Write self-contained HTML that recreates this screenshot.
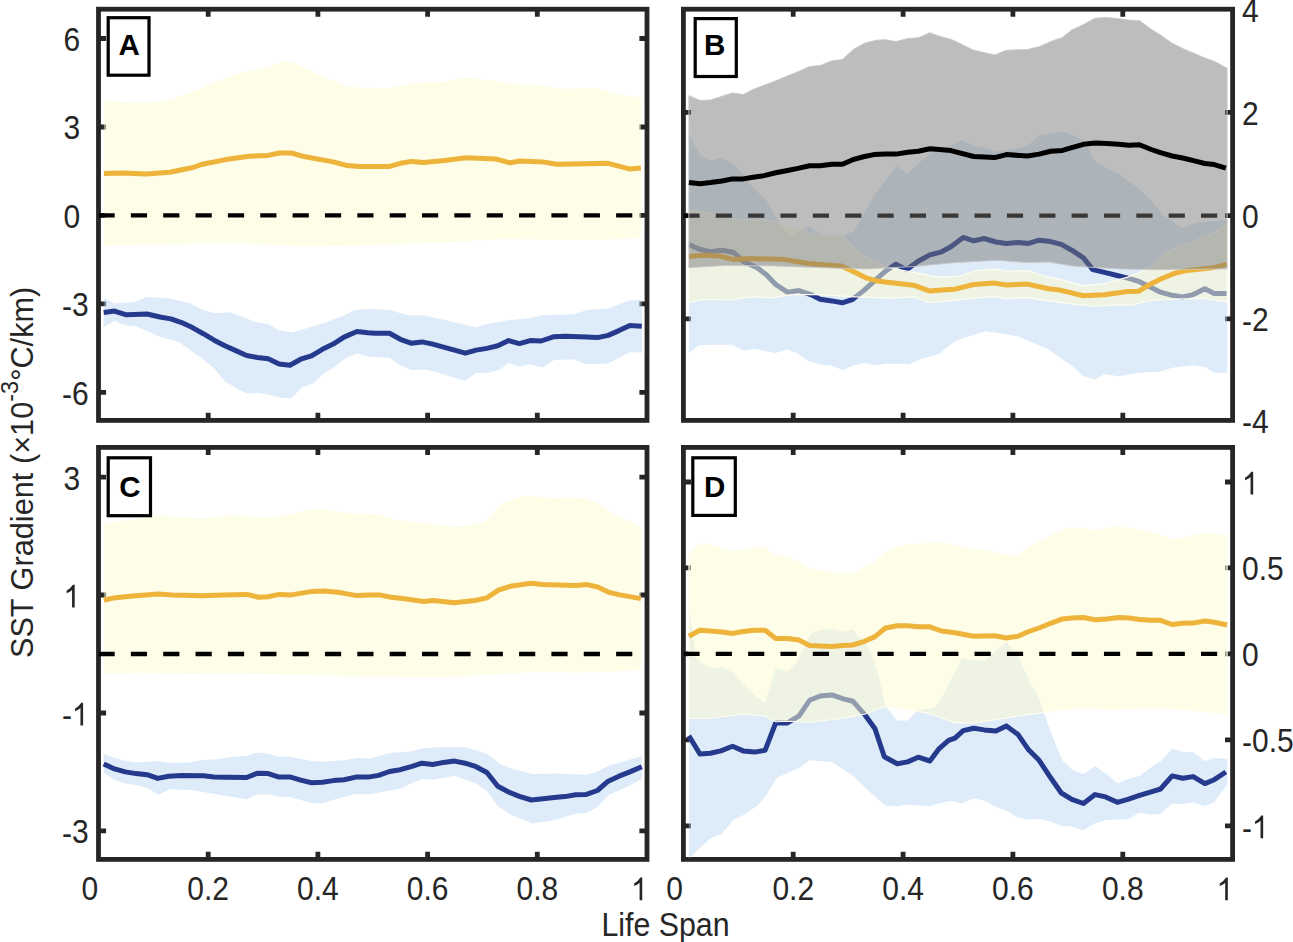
<!DOCTYPE html><html><head><meta charset="utf-8"><style>html,body{margin:0;padding:0;background:#fff;width:1293px;height:942px;overflow:hidden}svg{display:block}text{font-family:"Liberation Sans", sans-serif}</style></head><body>
<svg width="1293" height="942" viewBox="0 0 1293 942">
<defs>
<clipPath id="cA"><rect x="98.5" y="9.2" width="548.5" height="411.8"/></clipPath>
<clipPath id="cB"><rect x="683.4" y="9.2" width="549.2" height="411.8"/></clipPath>
<clipPath id="cC"><rect x="98.5" y="447.4" width="548.5" height="412.6"/></clipPath>
<clipPath id="cD"><rect x="683.4" y="447.4" width="549.2" height="412.6"/></clipPath>
</defs>
<path d="M98.5 38.5H106.1M647.0 38.5H639.4M98.5 127.0H106.1M647.0 127.0H639.4M98.5 215.4H106.1M647.0 215.4H639.4M98.5 303.8H106.1M647.0 303.8H639.4M98.5 392.3H106.1M647.0 392.3H639.4M208.2 9.2V16.8M208.2 420.4V412.8M317.9 9.2V16.8M317.9 420.4V412.8M427.6 9.2V16.8M427.6 420.4V412.8M537.3 9.2V16.8M537.3 420.4V412.8" stroke="#262626" stroke-width="4.8" fill="none"/>
<rect x="98.5" y="9.2" width="548.5" height="411.2" fill="none" stroke="#262626" stroke-width="4.8"/>
<g clip-path="url(#cA)">
<polygon points="103.9,100.3 118.4,101.9 144.0,103.0 169.7,100.3 193.0,91.4 216.4,82.0 239.8,72.7 267.8,67.6 281.8,61.5 291.2,61.5 319.2,75.0 347.2,86.7 370.0,87.9 388.7,88.6 412.0,83.2 444.7,82.0 463.4,77.4 500.8,81.6 510.1,83.9 533.5,84.4 563.8,89.0 594.2,87.9 622.2,94.9 640.9,97.2 640.9,238.5 580.2,239.9 500.8,239.0 440.0,242.7 370.0,245.0 305.2,246.7 293.5,245.5 235.0,243.2 165.0,244.3 103.9,245.5" fill="#fdfbd0" fill-opacity="0.5"/>
<polygon points="103.7,297.7 114.5,303.6 134.0,302.0 147.0,297.1 168.6,298.2 190.3,303.6 203.3,310.1 214.1,313.3 229.3,312.2 242.2,316.6 255.2,322.0 268.2,324.1 279.1,330.2 292.1,332.4 302.9,329.5 313.7,325.9 324.5,323.1 344.0,315.5 354.9,310.1 370.0,309.0 389.5,310.1 409.0,315.5 424.1,315.5 445.8,320.2 476.1,327.4 486.9,324.1 508.6,320.2 530.2,318.1 543.2,315.0 573.6,314.4 586.5,310.1 608.2,308.5 629.9,300.3 641.8,299.9 641.8,352.7 629.9,351.9 608.2,363.5 586.5,364.2 573.6,359.2 554.1,359.9 542.2,367.4 530.2,364.2 519.4,366.4 508.6,363.1 499.9,369.6 486.9,373.1 476.1,373.1 465.3,380.9 435.0,371.8 424.1,369.6 411.1,370.0 400.3,365.3 389.5,357.7 375.0,357.0 367.9,356.6 357.0,353.4 346.2,357.7 335.4,366.4 324.5,372.9 313.7,383.0 302.9,386.9 291.0,398.2 281.2,397.8 268.2,394.5 257.4,393.0 246.6,393.4 224.9,381.5 214.1,368.5 201.1,357.7 179.5,342.5 157.8,336.0 136.1,326.3 125.3,325.2 114.5,320.9 103.7,326.7" fill="#b6d3f0" fill-opacity="0.45"/>
<polyline points="103.9,173.6 123.0,173.1 146.4,174.0 169.7,172.2 193.0,167.5 202.4,164.2 225.8,159.6 249.1,156.3 267.8,155.4 279.5,153.0 291.2,153.0 305.2,156.8 333.2,161.9 347.2,165.6 358.9,166.6 370.0,166.6 388.7,166.6 400.4,163.3 412.0,161.4 423.7,162.4 444.7,160.5 465.7,157.7 496.1,159.1 510.1,162.8 519.5,161.0 542.8,161.9 556.8,164.2 584.9,163.8 608.2,163.3 629.2,168.9 640.9,168.0" fill="none" stroke="#edb33a" stroke-width="5" stroke-linejoin="round"/>
<polyline points="103.7,312.4 114.5,311.1 126.4,314.8 147.0,314.0 160.0,317.0 170.8,318.9 181.6,322.6 192.4,327.6 203.3,333.7 214.1,340.2 224.9,345.8 235.8,350.6 246.6,355.5 257.4,357.5 268.2,358.8 279.1,364.0 289.9,365.3 300.7,359.2 311.5,355.8 322.4,349.3 333.2,344.1 344.0,337.1 357.0,331.5 367.9,332.8 375.0,333.2 389.5,333.2 400.3,339.3 411.1,343.2 422.0,341.9 432.8,344.1 443.6,347.1 454.5,350.1 465.3,353.2 476.1,350.1 486.9,348.4 497.8,345.8 508.6,340.6 519.4,343.6 530.2,340.6 541.1,341.0 554.1,336.7 564.9,336.3 586.5,337.1 597.4,337.6 608.2,335.4 619.0,330.6 629.9,325.4 641.8,326.3" fill="none" stroke="#253a8c" stroke-width="5" stroke-linejoin="round"/>
<line x1="98.5" y1="215.4" x2="647.0" y2="215.4" stroke="#000" stroke-width="4.4" stroke-dasharray="16.2 16.15"/>
</g>
<text transform="translate(80.20,51.02) scale(1.000,1.100)" font-size="30" fill="#262626" text-anchor="end">6</text>
<text transform="translate(80.20,139.46) scale(1.000,1.100)" font-size="30" fill="#262626" text-anchor="end">3</text>
<text transform="translate(80.20,227.90) scale(1.000,1.100)" font-size="30" fill="#262626" text-anchor="end">0</text>
<text transform="translate(88.60,316.34) scale(1.000,1.100)" font-size="30" fill="#262626" text-anchor="end"><tspan dy="1.40">-</tspan><tspan dy="-1.40">3</tspan></text>
<text transform="translate(88.60,404.78) scale(1.000,1.100)" font-size="30" fill="#262626" text-anchor="end"><tspan dy="1.40">-</tspan><tspan dy="-1.40">6</tspan></text>
<rect x="108.2" y="17.7" width="40.8" height="57.5" fill="#fff" stroke="#000" stroke-width="3.2"/>
<text transform="translate(129.20,55.00) scale(1.000,1.020)" font-size="29.5" fill="#000" text-anchor="middle" font-weight="bold">A</text>
<path d="M683.4 112.4H691.0M1232.6 112.4H1225.0M683.4 215.6H691.0M1232.6 215.6H1225.0M683.4 318.8H691.0M1232.6 318.8H1225.0M793.2 9.2V16.8M793.2 420.4V412.8M903.1 9.2V16.8M903.1 420.4V412.8M1012.9 9.2V16.8M1012.9 420.4V412.8M1122.8 9.2V16.8M1122.8 420.4V412.8" stroke="#262626" stroke-width="4.8" fill="none"/>
<rect x="683.4" y="9.2" width="549.2" height="411.2" fill="none" stroke="#262626" stroke-width="4.8"/>
<g clip-path="url(#cB)">
<polygon points="688.9,134.3 699.9,155.3 710.4,161.1 720.9,157.6 732.5,163.5 743.1,174.0 750.0,184.5 766.4,200.8 779.0,221.9 789.3,237.2 808.0,226.2 818.1,233.0 831.7,235.5 843.6,235.5 853.8,231.3 875.9,193.0 896.3,165.9 907.7,174.0 918.2,163.5 929.9,154.1 948.6,147.1 962.0,140.1 973.7,146.0 985.4,148.3 997.0,151.8 1011.0,149.5 1027.4,146.0 1039.1,135.5 1050.7,133.6 1061.3,131.2 1071.8,135.0 1083.4,140.1 1095.1,161.1 1106.8,168.6 1118.5,174.0 1139.5,189.2 1151.2,200.8 1162.8,214.9 1182.2,228.2 1196.2,222.5 1212.0,221.5 1227.1,220.0 1227.1,372.8 1214.2,372.8 1204.9,367.0 1193.2,365.3 1172.2,367.7 1160.5,371.6 1139.5,372.8 1118.5,376.3 1104.5,374.0 1095.1,379.4 1083.4,376.3 1071.8,365.8 1048.4,349.5 1018.1,336.6 1001.7,333.6 985.4,331.2 964.3,337.8 955.0,341.3 939.2,353.7 920.5,359.3 908.9,364.6 897.2,363.5 885.5,363.9 876.2,365.3 864.5,363.0 852.8,365.8 842.3,370.0 831.8,365.8 820.1,364.6 808.4,361.1 796.8,353.0 787.4,349.5 775.7,353.0 754.7,349.0 743.1,350.6 731.4,344.8 710.4,344.8 698.7,345.3 688.9,353.0" fill="#b6d3f0" fill-opacity="0.45"/>
<polyline points="688.9,244.4 698.7,249.0 710.4,251.8 722.0,250.2 733.7,252.5 743.1,261.2 757.1,267.7 766.4,274.7 775.7,284.5 787.4,292.2 799.1,290.6 810.8,294.6 820.1,299.3 831.8,300.9 842.3,302.8 852.8,299.3 864.5,289.9 876.2,279.4 885.5,271.2 896.0,264.2 906.5,269.6 918.2,261.2 929.9,254.9 941.6,251.8 950.9,246.7 963.2,237.4 973.7,240.9 984.2,238.5 995.9,242.0 1006.4,243.4 1018.1,242.5 1028.6,243.4 1039.1,240.2 1050.7,241.6 1061.3,244.4 1071.8,250.2 1083.4,257.9 1092.8,269.6 1104.5,272.4 1116.1,275.2 1127.8,278.2 1139.5,281.7 1151.2,287.6 1160.5,292.2 1172.2,295.3 1182.7,296.9 1193.2,294.6 1204.9,288.7 1214.2,293.4 1227.1,293.4" fill="none" stroke="#253a8c" stroke-width="5" stroke-linejoin="round"/>
<polygon points="688.9,210.5 703.4,211.7 731.4,218.7 740.0,219.4 765.5,220.2 780.8,223.6 797.7,228.7 811.3,233.8 841.9,236.3 858.9,252.5 875.9,262.7 889.5,267.8 913.5,272.4 936.9,277.1 960.0,276.3 973.7,271.2 994.7,268.9 1006.4,271.2 1027.4,270.5 1048.4,277.1 1060.1,279.4 1083.4,285.9 1104.5,283.6 1127.8,277.1 1139.5,272.4 1153.5,265.5 1165.2,253.7 1176.9,247.9 1193.2,240.9 1214.2,232.7 1227.1,223.4 1227.1,302.0 1206.4,298.8 1180.9,298.8 1150.4,300.8 1130.0,305.2 1118.5,304.6 1095.1,306.3 1071.8,303.9 1048.4,300.9 1027.4,297.6 1006.4,298.6 994.7,296.7 973.7,298.1 955.0,300.4 929.9,302.8 913.5,296.9 890.2,298.1 855.2,296.9 820.1,294.6 792.1,294.6 773.4,297.6 750.1,296.9 731.4,300.0 703.4,299.3 688.9,302.8" fill="#fdfbd0" fill-opacity="0.5" stroke="#fffdf0" stroke-width="1.1" stroke-linejoin="round"/>
<polyline points="688.9,256.5 703.4,255.3 719.7,256.0 733.7,259.6 750.1,258.4 785.1,259.6 808.4,263.5 841.1,265.9 852.8,271.2 866.8,278.2 878.5,281.3 913.5,285.2 929.9,291.1 941.6,289.9 955.0,289.2 973.7,284.5 994.7,283.1 1006.4,285.0 1027.4,284.1 1048.4,288.7 1060.1,290.1 1083.4,295.7 1104.5,294.8 1127.8,291.5 1138.9,291.2 1149.1,284.8 1161.8,278.5 1174.6,273.4 1184.7,270.8 1198.7,269.2 1211.5,267.9 1219.1,266.4 1227.1,264.1" fill="none" stroke="#edb33a" stroke-width="5" stroke-linejoin="round"/>
<line x1="683.4" y1="215.6" x2="1232.6" y2="215.6" stroke="#000" stroke-width="4.4" stroke-dasharray="16.2 16.15"/>
<polygon points="688.9,95.7 699.9,100.4 710.4,100.0 722.0,96.2 732.5,92.9 743.1,94.6 754.7,88.7 773.4,81.7 787.4,75.9 799.1,71.2 809.6,66.6 820.1,65.4 831.8,60.7 842.3,59.6 854.0,49.0 864.5,43.2 876.2,40.2 885.5,39.7 896.0,41.6 907.7,38.5 918.2,37.8 929.9,32.7 939.2,36.2 950.9,39.2 960.0,43.5 973.7,50.2 994.7,54.9 1006.4,50.2 1027.4,49.5 1039.1,46.7 1050.7,41.6 1062.4,37.4 1071.8,29.9 1083.4,24.5 1095.1,18.2 1106.8,17.5 1118.5,18.7 1129.0,20.1 1139.5,20.6 1151.2,29.2 1160.5,35.0 1172.2,43.2 1183.9,49.0 1204.9,57.9 1214.2,61.2 1227.1,68.2 1227.1,268.9 1153.5,269.6 1118.5,268.9 1090.5,267.3 1071.8,265.9 1048.4,261.9 1027.4,262.6 997.0,260.3 955.0,262.6 913.5,266.6 866.8,268.9 820.1,267.7 773.4,265.9 726.7,265.4 688.9,267.7" fill="#757575" fill-opacity="0.48" stroke="#c8c8c8" stroke-width="0.9" stroke-linejoin="round"/>
<polyline points="688.9,182.6 699.9,183.8 710.4,182.6 722.0,181.0 732.5,178.9 743.1,178.9 754.7,177.0 764.1,175.6 775.7,172.8 787.4,170.5 796.8,168.6 809.6,165.8 820.1,165.8 831.8,164.2 842.3,164.2 852.8,159.7 864.5,156.5 873.8,154.6 885.5,154.1 896.0,154.1 907.7,152.3 918.2,151.3 929.9,148.8 939.2,149.5 950.9,150.6 973.7,156.5 994.7,157.6 1006.4,154.6 1027.4,156.0 1039.1,154.1 1050.7,151.3 1062.4,150.4 1071.8,147.6 1083.4,144.3 1095.1,142.9 1106.8,143.6 1118.5,144.3 1129.0,145.3 1139.5,144.8 1151.2,149.5 1160.5,152.7 1172.2,156.0 1183.9,158.3 1195.5,161.1 1204.9,163.5 1214.2,164.6 1225.9,168.1" fill="none" stroke="#000" stroke-width="5" stroke-linejoin="round"/>
</g>
<text transform="translate(1242.00,21.70) scale(1.000,1.100)" font-size="30" fill="#262626">4</text>
<text transform="translate(1242.00,124.92) scale(1.000,1.100)" font-size="30" fill="#262626">2</text>
<text transform="translate(1242.00,228.10) scale(1.000,1.100)" font-size="30" fill="#262626">0</text>
<text transform="translate(1242.00,331.28) scale(1.000,1.100)" font-size="30" fill="#262626"><tspan dy="1.40">-</tspan><tspan dy="-1.40">2</tspan></text>
<text transform="translate(1242.00,432.90) scale(1.000,1.100)" font-size="30" fill="#262626"><tspan dy="1.40">-</tspan><tspan dy="-1.40">4</tspan></text>
<rect x="695.2" y="18.6" width="41.1" height="57.9" fill="#fff" stroke="#000" stroke-width="3.2"/>
<text transform="translate(714.60,55.00) scale(1.000,1.020)" font-size="29.5" fill="#000" text-anchor="middle" font-weight="bold">B</text>
<path d="M98.5 477.1H106.1M647.0 477.1H639.4M98.5 595.0H106.1M647.0 595.0H639.4M98.5 713.0H106.1M647.0 713.0H639.4M98.5 830.9H106.1M647.0 830.9H639.4M208.2 447.4V455.0M208.2 859.4V851.8M317.9 447.4V455.0M317.9 859.4V851.8M427.6 447.4V455.0M427.6 859.4V851.8M537.3 447.4V455.0M537.3 859.4V851.8" stroke="#262626" stroke-width="4.8" fill="none"/>
<rect x="98.5" y="447.4" width="548.5" height="412.0" fill="none" stroke="#262626" stroke-width="4.8"/>
<g clip-path="url(#cC)">
<polygon points="103.9,523.9 118.4,521.6 141.7,518.5 158.1,515.5 176.7,516.9 202.4,518.5 225.8,515.5 246.8,516.2 263.1,517.8 288.8,515.0 309.9,509.2 323.9,509.2 340.2,512.7 370.0,513.9 379.3,514.6 393.4,519.2 421.4,523.2 440.1,524.4 454.1,526.7 475.1,524.4 486.8,520.2 500.8,504.5 519.5,496.8 533.5,496.3 552.2,498.2 566.2,497.5 584.9,498.2 598.9,503.4 615.2,515.0 631.6,522.0 640.9,526.7 640.9,670.3 580.2,672.7 533.5,672.0 486.8,675.0 440.1,677.3 375.0,676.6 328.5,675.7 281.8,674.3 235.1,673.4 188.4,673.8 141.7,672.7 103.9,673.4" fill="#fdfbd0" fill-opacity="0.5"/>
<polygon points="103.7,754.1 114.5,758.0 125.3,761.1 136.1,762.4 157.8,761.1 168.6,762.8 190.3,762.4 201.1,760.2 214.1,759.5 233.6,756.7 246.6,755.9 257.4,752.4 268.2,753.7 279.1,756.7 289.9,756.7 311.5,761.1 322.4,761.7 344.0,760.2 357.0,758.0 370.0,758.5 389.5,753.1 411.1,751.5 424.1,748.1 443.6,747.2 465.3,747.2 486.9,753.7 499.9,763.9 510.8,768.2 532.4,774.1 554.1,773.6 586.5,774.7 597.4,771.5 608.2,766.0 629.9,759.5 641.8,755.9 641.8,779.0 629.9,785.5 608.2,795.3 597.4,807.2 586.5,813.0 575.7,813.7 554.1,820.2 532.4,823.4 510.8,814.8 497.8,806.1 486.9,790.9 476.1,783.4 454.5,775.8 432.8,779.7 422.0,779.0 411.1,783.4 400.3,788.8 389.5,790.5 370.0,794.2 354.9,794.2 335.4,799.2 322.4,803.5 311.5,802.9 289.9,797.0 281.2,797.0 268.2,794.2 257.4,794.4 246.6,799.2 224.9,795.7 203.3,792.0 190.3,789.9 169.7,789.2 158.9,794.8 147.0,787.7 136.1,784.9 125.3,783.4 114.5,780.1 103.7,772.5" fill="#b6d3f0" fill-opacity="0.45"/>
<polyline points="103.9,600.3 113.7,597.9 130.0,596.3 158.1,594.0 172.1,594.9 202.4,595.8 223.4,594.9 246.8,594.4 258.5,597.2 267.8,596.8 279.5,594.4 291.2,594.9 312.2,591.4 323.9,590.9 340.2,592.6 356.6,595.6 370.0,594.9 379.3,594.9 391.0,597.2 402.7,598.6 423.7,601.4 433.1,600.5 454.1,602.8 475.1,600.5 486.8,597.9 498.4,590.2 510.1,586.3 531.1,583.2 542.8,584.6 575.5,585.6 587.2,584.6 597.7,587.0 608.2,592.1 619.9,594.9 640.9,598.6" fill="none" stroke="#edb33a" stroke-width="5" stroke-linejoin="round"/>
<polyline points="103.7,763.9 114.5,768.9 125.3,771.9 136.1,773.6 147.0,774.7 157.8,778.4 168.6,776.2 181.6,775.4 203.3,775.8 214.1,777.1 224.9,777.3 246.6,777.5 257.4,773.2 268.2,773.6 279.1,777.1 289.9,776.9 300.7,780.1 311.5,782.7 322.4,782.3 333.2,780.6 344.0,779.7 357.0,776.9 367.9,777.1 378.7,775.4 389.5,771.5 400.3,769.7 411.1,766.7 422.0,763.2 432.8,764.5 443.6,762.4 454.5,761.1 465.3,763.2 476.1,766.7 486.9,772.5 497.8,786.2 508.6,792.0 519.4,796.4 531.3,800.0 543.2,798.7 554.1,797.4 564.9,796.6 575.7,794.8 586.5,794.4 597.4,790.5 608.2,781.2 619.0,776.2 629.9,771.9 641.8,766.7" fill="none" stroke="#253a8c" stroke-width="5" stroke-linejoin="round"/>
<line x1="98.5" y1="654.0" x2="647.0" y2="654.0" stroke="#000" stroke-width="4.4" stroke-dasharray="16.2 16.15"/>
</g>
<text transform="translate(80.20,489.59) scale(1.000,1.100)" font-size="30" fill="#262626" text-anchor="end">3</text>
<path transform="translate(63.52,607.53) scale(0.01465,-0.01611)" d="M763 0L583 0L583 1090Q470 990 210 880L210 1040Q470 1160 640 1409L763 1409Z" fill="#262626"/>
<text transform="translate(61.93,725.47) scale(1.000,1.100)" font-size="30" fill="#262626"><tspan dy="1.40">-</tspan><tspan dy="-1.40"> </tspan></text><path transform="translate(71.92,725.47) scale(0.01465,-0.01611)" d="M763 0L583 0L583 1090Q470 990 210 880L210 1040Q470 1160 640 1409L763 1409Z" fill="#262626"/>
<text transform="translate(88.60,843.41) scale(1.000,1.100)" font-size="30" fill="#262626" text-anchor="end"><tspan dy="1.40">-</tspan><tspan dy="-1.40">3</tspan></text>
<rect x="108.2" y="457.8" width="42.3" height="57.9" fill="#fff" stroke="#000" stroke-width="3.2"/>
<text transform="translate(130.00,497.00) scale(1.000,1.020)" font-size="29.5" fill="#000" text-anchor="middle" font-weight="bold">C</text>
<path d="M683.4 482.0H691.0M1232.6 482.0H1225.0M683.4 567.9H691.0M1232.6 567.9H1225.0M683.4 653.9H691.0M1232.6 653.9H1225.0M683.4 739.9H691.0M1232.6 739.9H1225.0M683.4 825.8H691.0M1232.6 825.8H1225.0M793.2 447.4V455.0M793.2 859.4V851.8M903.1 447.4V455.0M903.1 859.4V851.8M1012.9 447.4V455.0M1012.9 859.4V851.8M1122.8 447.4V455.0M1122.8 859.4V851.8" stroke="#262626" stroke-width="4.8" fill="none"/>
<rect x="683.4" y="447.4" width="549.2" height="412.0" fill="none" stroke="#262626" stroke-width="4.8"/>
<g clip-path="url(#cD)">
<polygon points="688.9,608.0 696.3,658.7 710.4,668.0 722.0,667.6 733.7,672.7 745.4,686.7 757.1,697.2 765.2,703.1 775.7,668.0 787.4,671.5 796.8,662.2 801.4,651.7 810.8,633.8 820.1,630.3 831.8,628.7 843.5,631.5 852.8,629.6 866.8,645.5 871.5,654.0 878.5,675.0 885.5,706.6 897.2,720.6 907.7,720.6 918.2,710.0 934.6,707.7 943.9,693.7 962.0,658.7 973.7,659.9 984.2,661.0 995.9,650.5 1006.4,642.3 1018.1,656.3 1029.7,682.0 1039.1,698.4 1043.7,712.4 1053.1,738.1 1062.4,760.3 1071.8,769.6 1083.4,774.3 1095.1,766.1 1106.8,774.3 1117.3,783.6 1127.8,779.0 1139.5,775.9 1151.2,767.3 1160.5,761.4 1172.2,748.6 1182.7,752.1 1193.2,752.1 1204.9,761.0 1214.2,757.9 1227.1,759.1 1227.1,784.8 1214.2,802.3 1204.9,806.3 1193.2,802.3 1182.7,803.9 1172.2,803.5 1160.5,814.0 1151.2,814.7 1139.5,812.4 1127.8,819.4 1117.3,819.4 1105.6,820.3 1095.1,823.3 1083.4,830.3 1071.8,826.8 1061.3,825.7 1050.7,821.7 1039.1,818.7 1028.6,819.8 1018.1,817.5 1006.4,810.5 995.9,807.0 984.2,800.7 973.7,798.3 962.0,803.5 950.9,800.7 939.2,803.5 929.9,806.3 907.7,804.6 897.2,806.3 885.5,805.8 875.0,796.5 862.2,784.8 852.8,775.5 831.8,761.9 809.6,760.3 799.1,768.0 787.4,773.1 776.9,777.8 766.4,795.3 757.1,805.8 745.4,814.0 733.7,819.8 722.0,833.8 710.4,838.5 699.9,847.8 688.9,858.4" fill="#b6d3f0" fill-opacity="0.45"/>
<polyline points="688.9,735.7 699.9,754.0 710.4,753.3 720.9,750.9 732.5,746.3 743.1,750.9 754.7,752.1 765.2,750.2 775.7,722.9 787.4,722.9 799.1,715.9 809.6,700.3 820.1,696.0 831.8,694.9 843.5,698.9 852.8,701.2 864.5,714.3 875.0,728.7 884.3,756.8 897.2,763.8 907.7,761.9 918.2,757.2 929.9,761.0 939.2,748.6 948.6,740.4 955.0,738.1 963.2,730.6 973.7,728.3 984.2,729.9 995.9,731.1 1006.4,725.9 1018.1,734.6 1028.6,749.8 1039.1,760.3 1050.7,777.8 1061.3,793.0 1071.8,799.3 1083.4,803.5 1095.1,794.6 1105.6,796.9 1117.3,802.3 1127.8,799.3 1139.5,795.3 1151.2,791.8 1160.5,789.0 1172.2,775.9 1182.7,778.3 1193.2,776.6 1204.9,783.6 1214.2,779.7 1225.9,772.0" fill="none" stroke="#253a8c" stroke-width="5" stroke-linejoin="round"/>
<polygon points="688.9,554.4 699.9,543.9 710.4,544.6 720.9,547.9 732.5,551.6 743.1,549.3 754.7,547.9 765.2,547.9 775.7,555.6 787.4,556.8 799.1,561.9 809.6,568.4 820.1,570.8 831.8,572.6 843.5,572.6 852.8,573.1 864.5,567.3 875.0,561.9 885.5,551.6 897.2,547.0 907.7,544.6 918.2,543.9 929.9,542.8 941.6,542.3 955.0,545.1 973.7,549.3 985.4,550.2 997.0,553.3 1008.7,555.6 1018.1,554.9 1029.7,547.0 1050.7,535.7 1062.4,529.9 1071.8,527.6 1083.4,528.3 1095.1,530.6 1106.8,527.6 1118.5,526.9 1129.0,527.6 1139.5,529.9 1151.2,532.2 1160.5,534.6 1172.2,539.3 1182.7,538.6 1193.2,535.3 1204.9,533.4 1214.2,533.9 1227.1,534.6 1227.1,714.3 1183.9,709.6 1160.5,708.2 1106.8,709.6 1083.4,708.2 1060.1,710.1 1043.7,712.4 1018.1,715.9 997.0,719.4 973.7,722.9 955.0,722.9 929.9,713.6 907.7,709.6 885.5,706.6 864.5,714.3 843.5,718.2 809.6,722.2 787.4,721.3 775.7,721.7 765.2,715.9 743.1,714.3 710.4,718.2 688.9,718.2" fill="#fdfbd0" fill-opacity="0.5" stroke="#fffdf0" stroke-width="1.1" stroke-linejoin="round"/>
<polyline points="688.9,636.2 699.9,630.3 710.4,631.0 722.0,632.0 732.5,633.4 743.1,631.5 754.7,630.3 765.2,630.3 775.7,638.5 787.4,638.5 799.1,640.1 809.6,645.5 820.1,646.0 831.8,646.4 843.5,645.5 852.8,645.0 864.5,641.3 875.0,636.6 885.5,628.0 897.2,625.7 907.7,625.7 918.2,626.8 929.9,626.8 941.6,631.0 955.0,632.7 973.7,636.2 994.7,635.7 1006.4,638.0 1018.1,636.2 1027.4,632.0 1039.1,628.0 1050.7,623.3 1062.4,618.9 1071.8,618.0 1083.4,617.5 1095.1,619.8 1106.8,618.9 1118.5,617.5 1129.0,618.0 1139.5,619.4 1151.2,620.3 1160.5,620.3 1172.2,624.5 1182.7,623.3 1193.2,623.1 1204.9,621.0 1214.2,622.2 1227.1,625.0" fill="none" stroke="#edb33a" stroke-width="5" stroke-linejoin="round"/>
<line x1="683.4" y1="653.9" x2="1232.6" y2="653.9" stroke="#000" stroke-width="4.4" stroke-dasharray="16.2 16.15"/>
</g>
<path transform="translate(1242.00,494.50) scale(0.01465,-0.01611)" d="M763 0L583 0L583 1090Q470 990 210 880L210 1040Q470 1160 640 1409L763 1409Z" fill="#262626"/>
<text transform="translate(1242.00,580.45) scale(1.000,1.100)" font-size="30" fill="#262626">0.5</text>
<text transform="translate(1242.00,666.40) scale(1.000,1.100)" font-size="30" fill="#262626">0</text>
<text transform="translate(1242.00,752.35) scale(1.000,1.100)" font-size="30" fill="#262626"><tspan dy="1.40">-</tspan><tspan dy="-1.40">0.5</tspan></text>
<text transform="translate(1242.00,838.30) scale(1.000,1.100)" font-size="30" fill="#262626"><tspan dy="1.40">-</tspan><tspan dy="-1.40"> </tspan></text><path transform="translate(1251.99,838.30) scale(0.01465,-0.01611)" d="M763 0L583 0L583 1090Q470 990 210 880L210 1040Q470 1160 640 1409L763 1409Z" fill="#262626"/>
<rect x="692.8" y="457.8" width="42.5" height="57.6" fill="#fff" stroke="#000" stroke-width="3.2"/>
<text transform="translate(714.70,496.60) scale(1.000,1.020)" font-size="29.5" fill="#000" text-anchor="middle" font-weight="bold">D</text>
<text transform="translate(208.20,900.20) scale(1.000,1.100)" font-size="30" fill="#262626" text-anchor="middle">0.2</text>
<text transform="translate(317.90,900.20) scale(1.000,1.100)" font-size="30" fill="#262626" text-anchor="middle">0.4</text>
<text transform="translate(427.60,900.20) scale(1.000,1.100)" font-size="30" fill="#262626" text-anchor="middle">0.6</text>
<text transform="translate(537.30,900.20) scale(1.000,1.100)" font-size="30" fill="#262626" text-anchor="middle">0.8</text>
<text transform="translate(89.80,900.20) scale(1.000,1.100)" font-size="30" fill="#262626" text-anchor="middle">0</text>
<path transform="translate(631.06,900.20) scale(0.01465,-0.01611)" d="M763 0L583 0L583 1090Q470 990 210 880L210 1040Q470 1160 640 1409L763 1409Z" fill="#262626"/>
<text transform="translate(793.24,900.20) scale(1.000,1.100)" font-size="30" fill="#262626" text-anchor="middle">0.2</text>
<text transform="translate(903.08,900.20) scale(1.000,1.100)" font-size="30" fill="#262626" text-anchor="middle">0.4</text>
<text transform="translate(1012.92,900.20) scale(1.000,1.100)" font-size="30" fill="#262626" text-anchor="middle">0.6</text>
<text transform="translate(1122.76,900.20) scale(1.000,1.100)" font-size="30" fill="#262626" text-anchor="middle">0.8</text>
<text transform="translate(674.70,900.20) scale(1.000,1.100)" font-size="30" fill="#262626" text-anchor="middle">0</text>
<path transform="translate(1216.66,900.20) scale(0.01465,-0.01611)" d="M763 0L583 0L583 1090Q470 990 210 880L210 1040Q470 1160 640 1409L763 1409Z" fill="#262626"/>
<text transform="translate(665.50,935.70) scale(1.012,1.100)" font-size="30" fill="#262626" text-anchor="middle">Life Span</text>
<text transform="translate(32.70,472.40) rotate(-90) scale(1.024,1.064)" font-size="30" fill="#262626" text-anchor="middle">SST Gradient (×10<tspan font-size="23" dy="-14">-3</tspan><tspan dy="14">°C/km)</tspan></text>
</svg></body></html>
